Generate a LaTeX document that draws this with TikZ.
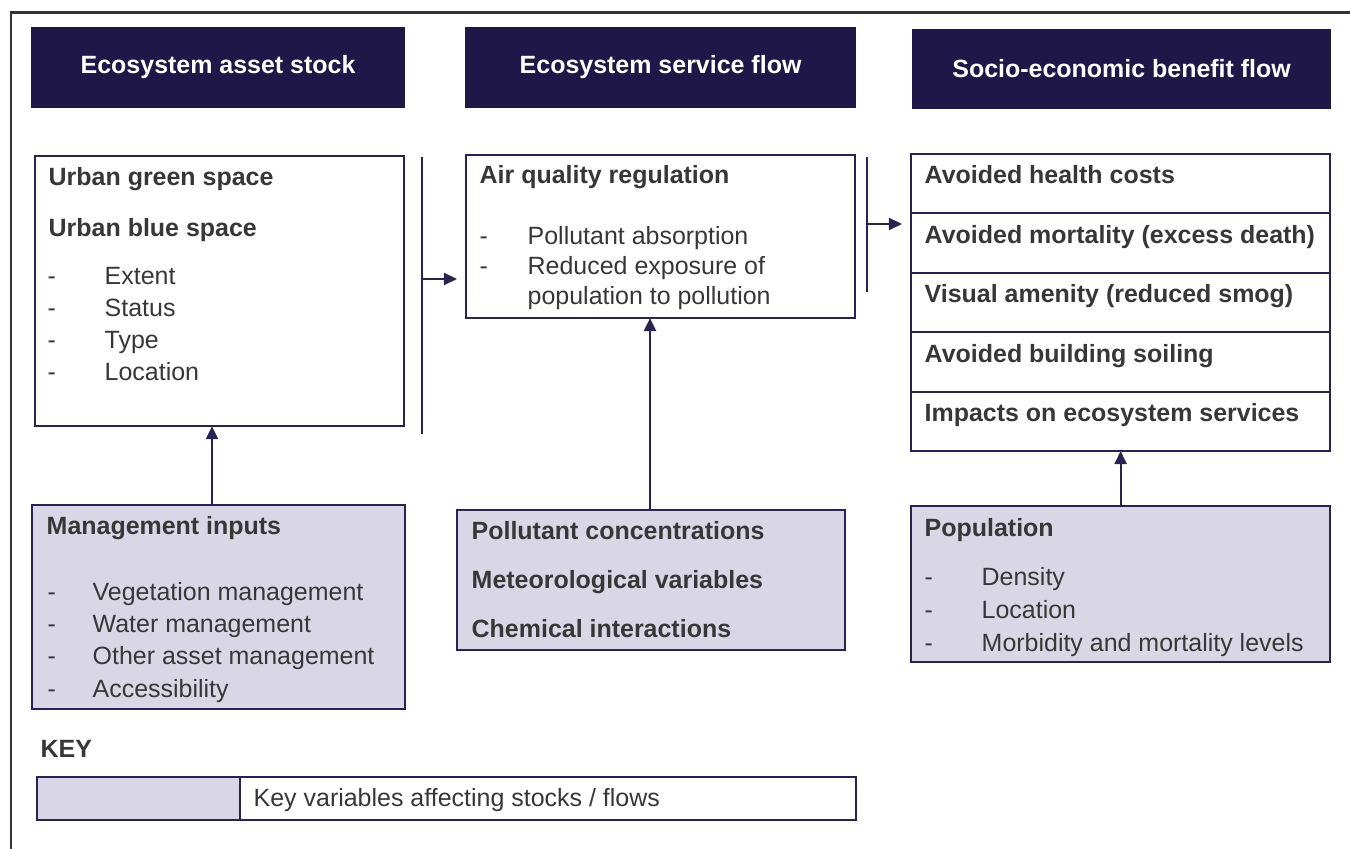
\documentclass[tikz,border=0pt]{standalone}
\usepackage{fontspec}
\setmainfont{Liberation Sans}
\usepackage{tikz}
\usetikzlibrary{arrows.meta}

\definecolor{headblue}{RGB}{31,23,71}
\definecolor{boxline}{RGB}{40,35,85}
\definecolor{varfill}{RGB}{217,215,230}
\definecolor{txtgray}{RGB}{55,55,55}
\definecolor{framegray}{RGB}{51,51,51}

\newcommand{\dfont}{\fontsize{7.1pt}{8.5pt}\selectfont}

\tikzset{
  head/.style={fill=headblue, draw=headblue, text=white, font=\dfont\bfseries, anchor=north west, inner sep=0pt, outer sep=0pt},
  box/.style={draw=boxline, line width=0.6pt, anchor=north west, inner sep=0pt, outer sep=0pt},
  var/.style={box, fill=varfill},
  txt/.style={anchor=base west, inner sep=0pt, text=txtgray, font=\dfont},
  btxt/.style={txt, font=\dfont\bfseries},
  link/.style={draw=boxline, line width=0.6pt},
  arr/.style={link, -{Triangle[length=1.3mm, width=1.2mm]}}
}

\begin{document}
\begin{tikzpicture}[x=0.01cm, y=-0.01cm]
\useasboundingbox (0,0) rectangle (1350,849);

% Frame
\draw[framegray, line width=0.85pt] (11,849) -- (11,13) -- (1350,13);

% Column headers
\node[head, minimum width=3.72cm, minimum height=0.79cm] (hasset) at (32,28) {Ecosystem asset stock};
\node[head, minimum width=3.89cm, minimum height=0.79cm] (hservice) at (466,28) {Ecosystem service flow};
\node[head, minimum width=4.17cm, minimum height=0.78cm] (hbenefit) at (913,30) {Socio-economic benefit flow};

% Asset stock
\node[box, minimum width=3.69cm, minimum height=2.70cm] (asset) at (35,156) {};
\node[btxt] (green) at (48,186) {Urban green space};
\node[btxt] (blue) at (48,237) {Urban blue space};
\foreach \t [count=\k] in {Extent, Status, Type, Location} {
  \node[txt] (adash\k) at (47,{253+32*\k}) {-};
  \node[txt] (aitem\k) at (104,{253+32*\k}) {\t};
}

% Service flow
\node[box, minimum width=3.89cm, minimum height=1.63cm] (service) at (466,155) {};
\node[btxt] (airq) at (479,184) {Air quality regulation};
\node[txt] (sdash1) at (479,245) {-};
\node[txt] (sdash2) at (479,275) {-};
\node[txt] (sitem1) at (527,245) {Pollutant absorption};
\node[txt] (sitem2) at (527,275) {Reduced exposure of};
\node[txt] (sitem3) at (527,305) {population to pollution};

% Benefit flow
\foreach \t [count=\k] in {Avoided health costs, Avoided mortality (excess death),
    Visual amenity (reduced smog), Avoided building soiling, Impacts on ecosystem services} {
  \node[box, minimum width=4.19cm, minimum height=0.594cm] (ben\k) at (911,{154+59.4*(\k-1)}) {};
  \node[btxt] (bentxt\k) at (924,{184+59.5*(\k-1)}) {\t};
}

% Key variables
\node[var, minimum width=3.73cm, minimum height=2.04cm] (mgmt) at (32,505) {};
\node[btxt] (mgmthead) at (46,535) {Management inputs};
\foreach \t [count=\k] in {Vegetation management, Water management, Other asset management, Accessibility} {
  \node[txt] (mdash\k) at (47,{568+32.3*\k}) {-};
  \node[txt] (mitem\k) at (92,{568+32.3*\k}) {\t};
}

\node[var, minimum width=3.88cm, minimum height=1.40cm] (pollut) at (457,510) {};
\foreach \t [count=\k] in {Pollutant concentrations, Meteorological variables, Chemical interactions}
  \node[btxt] (ptxt\k) at (471,{491+49*\k}) {\t};

\node[var, minimum width=4.19cm, minimum height=1.56cm] (popn) at (911,506) {};
\node[btxt] (popnhead) at (924,537) {Population};
\foreach \t [count=\k] in {Density, Location, Morbidity and mortality levels} {
  \node[txt] (pdash\k) at (924,{553+33*\k}) {-};
  \node[txt] (pitem\k) at (981,{553+33*\k}) {\t};
}

% Brackets and arrows
\coordinate (ltop) at (422,157);
\coordinate (lbot) at (422,434);
\coordinate (ljoin) at (422,279);
\coordinate (rtop) at (867,157);
\coordinate (rbot) at (867,292);
\coordinate (rjoin) at (867,224);
\draw[link] (ltop) -- (lbot);
\draw[link] (rtop) -- (rbot);
\draw[arr, shorten >=0.09cm] (ljoin) -- (ljoin -| service.west);
\draw[arr, shorten >=0.09cm] (rjoin) -- (rjoin -| ben1.west);

\coordinate (mgx) at (212,0);
\coordinate (plx) at (650,0);
\draw[arr] (mgmt.north -| mgx) -- (asset.south -| mgx);
\draw[arr] (pollut.north -| plx) -- (service.south -| plx);
\draw[arr] (popn.north) -- (ben5.south);

% Key
\node[btxt] (keyhead) at (40,758) {KEY};
\node[var, minimum width=2.03cm, minimum height=0.43cm] (keyfill) at (37,777) {};
\node[box, minimum width=6.16cm, minimum height=0.43cm] (keybox) at (240,777) {};
\node[txt] (keytxt) at (253,807) {Key variables affecting stocks / flows};

\end{tikzpicture}
\end{document}
